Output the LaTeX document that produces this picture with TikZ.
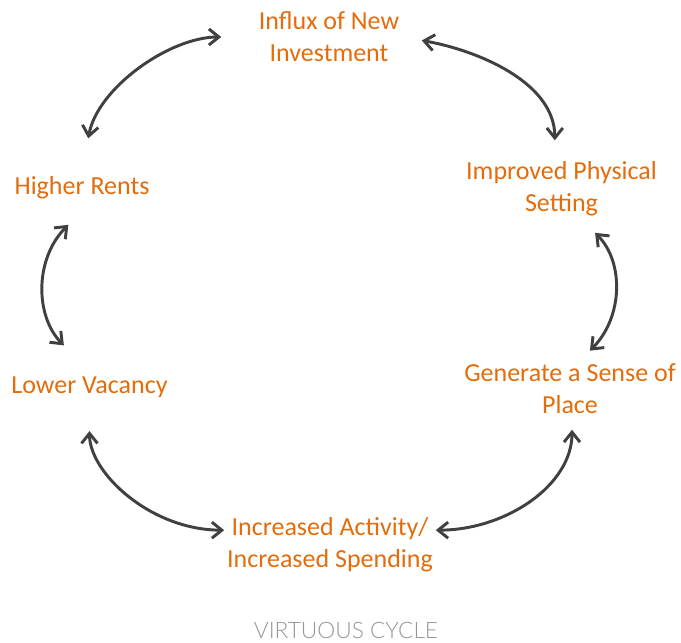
\documentclass[tikz,border=0pt]{standalone}
\usepackage{fontspec}
\setmainfont{Carlito}
\IfFontExistsTF{Lato Light}{\newfontfamily\cyclecapfont{Lato Light}}{\newfontfamily\cyclecapfont{Lato}}
\usetikzlibrary{arrows.meta}

\definecolor{stageorange}{RGB}{228,108,10}
\definecolor{arrowgray}{RGB}{64,64,64}
\definecolor{capgray}{RGB}{150,150,150}

\tikzset{
  stage/.style={text=stageorange, align=center, inner sep=2pt,
    font=\fontsize{19.5}{24}\selectfont},
  cycle arrow/.style={draw=arrowgray, line width=2.2pt,
    {Straight Barb[length=7.5pt,width=12pt]}-{Straight Barb[length=7.5pt,width=12pt]}},
}

\begin{document}
\begin{tikzpicture}[x=0.75pt, y=0.75pt]
\useasboundingbox (0,0) rectangle (681,-642);

\foreach \n/\px/\py/\t in {influx/329/-37/{Influx of New\\Investment},
    improved/561.5/-188.5/{Improved Physical\\Setting},
    higher/82/-188/{Higher Rents},
    generate/570/-388.5/{Generate a Sense of\\Place},
    lower/89.5/-387/{Lower Vacancy},
    increased/330/-545/{Increased Activity/\\Increased Spending}}
  \node [stage] (\n) at (\px,\py) {\t};

\node [text=capgray, font=\cyclecapfont\fontsize{17}{20}\selectfont] (caption) at (346,-630) {VIRTUOUS CYCLE};

% arrows round the cycle
\draw [cycle arrow, shorten <=27pt, shorten >=26pt]
  (higher.north) to[out=80, in=180] (influx.west);
\draw [cycle arrow, shorten <=15pt, shorten >=13.5pt]
  (influx.east) to[out=-10, in=90] ([xshift=-5pt]improved.north);
\draw [cycle arrow, shorten <=15pt, shorten >=10.5pt]
  ([xshift=14.6pt]improved.south) to[out=-45, in=45, looseness=1.1] ([xshift=7.5pt]generate.north);
\draw [cycle arrow, shorten <=10pt]
  ([xshift=1.5pt]generate.south) to[out=-90, in=0] (increased.8);
\draw [cycle arrow, shorten <=23pt]
  (lower.south) to[out=-90, in=180] (increased.172);
\draw [cycle arrow, shorten <=24pt, shorten >=30pt]
  ([xshift=6.75pt]higher.south) to[out=-135, in=135, looseness=1.2] ([xshift=2pt]lower.north);

\end{tikzpicture}
\end{document}
